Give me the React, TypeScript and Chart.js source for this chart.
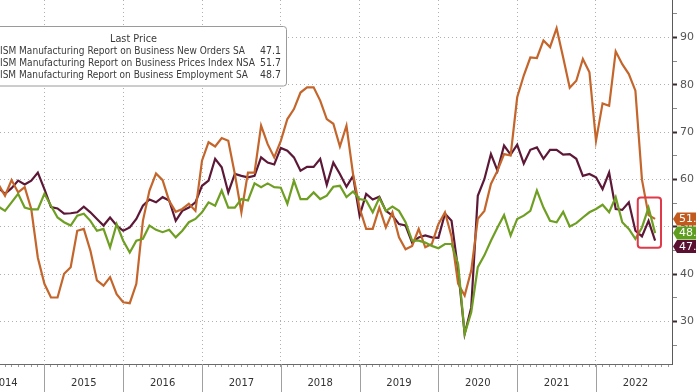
import React, { useEffect, useRef } from "react";
import { Chart, registerables } from "chart.js";

Chart.register(...registerables);

// ---- data (monthly, month-end, starting May 2014) ----
const START_YEAR = 2014;
const START_MONTH = 5;

const NEW_ORDERS = [
  58.3, 57.0, 58.2, 59.8, 59.0, 59.8, 61.5, 58.0,
  54.2, 53.9, 52.8, 52.9, 53.1, 54.3, 53.1, 51.7, 50.3, 52.0, 50.3, 49.2,
  49.9, 51.7, 54.5, 55.8, 55.2, 56.3, 55.6, 51.3, 53.4, 54.1, 55.2, 58.7,
  59.8, 64.4, 62.6, 57.3, 61.2, 60.8, 60.5, 60.8, 64.7, 63.6, 63.2, 66.7,
  66.1, 64.7, 61.9, 62.7, 62.7, 64.4, 58.9, 63.6, 61.2, 58.5, 60.8, 52.4,
  57.0, 55.8, 56.4, 53.4, 52.4, 50.6, 50.3, 46.7, 47.8, 48.2, 47.8, 47.7,
  52.8, 51.3, 41.0, 27.4, 33.0, 56.6, 60.1, 65.4, 61.9, 67.2, 65.3, 67.4,
  63.4, 66.3, 66.8, 64.4, 66.3, 66.3, 65.3, 65.4, 64.4, 60.8, 61.2, 60.5,
  58.0, 61.5, 53.8, 53.6, 55.2, 49.2, 48.0, 51.3, 47.1,
];

const PRICES = [
  59.0, 56.6, 59.9, 57.3, 58.4, 53.8, 43.5, 38.0,
  35.1, 35.1, 40.1, 41.5, 49.2, 49.6, 45.0, 38.7, 37.6, 39.4, 35.8, 34.1,
  33.9, 38.0, 51.3, 57.7, 61.3, 59.9, 55.5, 53.2, 53.8, 54.9, 53.4, 64.0,
  67.9, 67.0, 68.8, 68.2, 61.2, 53.1, 61.5, 61.5, 71.4, 67.5, 64.7, 68.2,
  72.8, 74.9, 78.4, 79.5, 79.5, 76.7, 72.8, 71.8, 67.0, 71.4, 61.2, 54.0,
  49.6, 49.6, 54.1, 49.9, 53.1, 47.8, 45.3, 46.0, 49.6, 45.7, 46.4, 50.6,
  53.1, 48.0, 38.0, 35.5, 40.8, 51.7, 53.4, 59.1, 61.9, 65.4, 65.1, 77.4,
  82.0, 85.8, 85.7, 89.4, 88.0, 92.0, 85.8, 79.4, 80.9, 85.5, 82.7, 68.2,
  76.1, 75.6, 87.1, 84.4, 82.3, 78.8, 60.0, 52.5, 51.7,
];

const EMPLOYMENT = [
  54.3, 53.4, 55.2, 57.0, 54.1, 53.7, 53.7, 57.0,
  54.5, 52.0, 51.0, 50.3, 52.4, 52.8, 51.3, 49.2, 49.6, 45.7, 50.6, 47.1,
  44.6, 47.1, 47.5, 50.3, 49.4, 48.9, 49.4, 47.8, 49.2, 51.0, 51.7, 53.1,
  55.2, 54.5, 57.7, 54.1, 54.1, 55.9, 55.6, 59.2, 58.4, 59.2, 58.4, 58.3,
  54.9, 59.8, 55.9, 55.9, 57.3, 55.9, 56.6, 58.5, 58.7, 56.3, 57.5, 55.9,
  55.6, 53.1, 56.1, 53.4, 54.3, 53.4, 51.0, 47.1, 47.1, 46.7, 46.0, 45.5,
  46.4, 46.4, 42.2, 27.4, 32.0, 41.5, 44.0, 47.1, 49.9, 52.5, 48.2, 51.7,
  52.4, 53.4, 57.7, 54.1, 51.3, 51.0, 53.2, 50.1, 50.8, 52.0, 53.1, 53.8,
  54.7, 53.1, 56.3, 51.0, 49.6, 47.5, 49.9, 54.1, 48.7,
];

const SERIES_NAMES = [
  "ISM Manufacturing Report on Business New Orders SA",
  "ISM Manufacturing Report on Business Prices Index NSA",
  "ISM Manufacturing Report on Business Employment SA",
];
const LEGEND_TITLE = "Last Price";
const LINE_COLORS = ["#5c1836", "#c4662c", "#6e9e22"];
const TAG_COLORS = ["#5a1030", "#c25a1e", "#5f9d1f"];

const X_MIN = 2014.4365;
const X_MAX = 2022.9645;
const Y_MIN = 21.05;
const Y_MAX = 97.95;
const Y_TICKS = [25, 30, 35, 40, 45, 50, 55, 60, 65, 70, 75, 80, 85, 90, 95];

const HIGHLIGHT_FROM = 2022.53;
const HIGHLIGHT_TO = 2022.825;
const HIGHLIGHT_HIGH = 56.2;
const HIGHLIGHT_LOW = 45.6;

const FONT = '"DejaVu Sans", Verdana, sans-serif';

const toPoints = (values: number[]) =>
  values.map((v, i) => ({ x: START_YEAR + (START_MONTH + i) / 12, y: v }));

const SERIES = [NEW_ORDERS, PRICES, EMPLOYMENT];

function roundRect(ctx: CanvasRenderingContext2D, x: number, y: number, w: number, h: number, r: number) {
  ctx.beginPath();
  ctx.moveTo(x + r, y);
  ctx.lineTo(x + w - r, y);
  ctx.arcTo(x + w, y, x + w, y + r, r);
  ctx.lineTo(x + w, y + h - r);
  ctx.arcTo(x + w, y + h, x + w - r, y + h, r);
  ctx.lineTo(x + r, y + h);
  ctx.arcTo(x, y + h, x, y + h - r, r);
  ctx.lineTo(x, y + r);
  ctx.arcTo(x, y, x + r, y, r);
  ctx.closePath();
}

function drawFitted(ctx: CanvasRenderingContext2D, text: string, x: number, y: number, w: number) {
  const m = ctx.measureText(text).width;
  ctx.save();
  ctx.translate(x, y);
  ctx.scale(w / m, 1);
  ctx.fillText(text, 0, 0);
  ctx.restore();
}

const decorPlugin = {
  id: "decor",
  afterDraw(chart: any) {
    const { ctx, chartArea } = chart;
    const xs = chart.scales.x;
    const ys = chart.scales.y;
    ctx.save();

    // year dividers under the axis
    ctx.strokeStyle = "#a0a0a0";
    ctx.lineWidth = 1;
    for (let yr = Math.ceil(xs.min); yr <= Math.floor(xs.max); yr++) {
      const px = Math.round(xs.getPixelForValue(yr)) + 0.5;
      ctx.beginPath();
      ctx.moveTo(px, chartArea.bottom);
      ctx.lineTo(px, chart.height);
      ctx.stroke();
    }

    // highlight box
    const hl = xs.getPixelForValue(HIGHLIGHT_FROM);
    const hr = xs.getPixelForValue(HIGHLIGHT_TO);
    const ht = ys.getPixelForValue(HIGHLIGHT_HIGH);
    const hb = ys.getPixelForValue(HIGHLIGHT_LOW);
    ctx.strokeStyle = "#e0394a";
    ctx.lineWidth = 2;
    roundRect(ctx, hl, ht, hr - hl, hb - ht, 3);
    ctx.stroke();

    // legend box
    ctx.fillStyle = "#ffffff";
    ctx.strokeStyle = "#9a9a9a";
    ctx.lineWidth = 1;
    roundRect(ctx, -21.5, 26.5, 308, 59.5, 3);
    ctx.fill();
    ctx.stroke();
    ctx.fillStyle = "#3a3a3a";
    ctx.font = "10.5px " + FONT;
    ctx.textBaseline = "middle";
    ctx.textAlign = "left";
    drawFitted(ctx, LEGEND_TITLE, 110, 39, 47);
    const rowY = [51.5, 63.5, 75.5];
    const nameW = [245, 255, 248];
    SERIES.forEach((s, i) => {
      ctx.textAlign = "left";
      drawFitted(ctx, SERIES_NAMES[i], 0, rowY[i], nameW[i]);
      const val = s[s.length - 1].toFixed(1);
      const vw = ctx.measureText(val).width;
      drawFitted(ctx, val, 281 - Math.min(vw, 21), rowY[i], Math.min(vw, 21));
    });

    // value tags on the right axis
    const order = [0, 1, 2].sort(
      (a, b) => SERIES[b][SERIES[b].length - 1] - SERIES[a][SERIES[a].length - 1]
    );
    const tagY: number[] = [];
    let prev = -Infinity;
    order.forEach((i) => {
      let yy = ys.getPixelForValue(SERIES[i][SERIES[i].length - 1]);
      if (yy < prev + 13.5) yy = prev + 13.5;
      tagY[i] = yy;
      prev = yy;
    });
    const left = chartArea.right + 1;
    ctx.font = "11px " + FONT;
    ctx.textAlign = "left";
    [0, 1, 2].forEach((i) => {
      const yc = tagY[i];
      ctx.fillStyle = TAG_COLORS[i];
      ctx.beginPath();
      ctx.moveTo(left, yc);
      ctx.lineTo(left + 4, yc - 6.5);
      ctx.lineTo(chart.width, yc - 6.5);
      ctx.lineTo(chart.width, yc + 6.5);
      ctx.lineTo(left + 4, yc + 6.5);
      ctx.closePath();
      ctx.fill();
      ctx.fillStyle = "#ffffff";
      ctx.fillText(SERIES[i][SERIES[i].length - 1].toFixed(1), left + 6, yc + 0.5);
    });

    ctx.restore();
  },
};

export default function App() {
  const ref = useRef<HTMLCanvasElement | null>(null);

  useEffect(() => {
    if (!ref.current) return;
    const chart = new Chart(ref.current, {
      type: "line",
      data: {
        datasets: SERIES.map((s, i) => ({
          label: SERIES_NAMES[i],
          data: toPoints(s),
          borderColor: LINE_COLORS[i],
          backgroundColor: LINE_COLORS[i],
          borderWidth: 2.2,
          pointRadius: 0,
          tension: 0,
          order: 2 - i,
        })),
      },
      options: {
        animation: false,
        responsive: false,
        layout: { padding: 0 },
        plugins: { legend: { display: false }, tooltip: { enabled: false } },
        scales: {
          x: {
            type: "linear",
            min: X_MIN,
            max: X_MAX,
            afterBuildTicks: (scale: any) => {
              const ticks = [];
              for (let k = Math.ceil(X_MIN * 12); k <= Math.floor(X_MAX * 12); k++) {
                ticks.push({ value: k / 12 });
              }
              scale.ticks = ticks;
            },
            afterFit: (scale: any) => {
              scale.height = 28;
              scale.paddingLeft = 0;
              scale.paddingRight = 0;
            },
            ticks: {
              autoSkip: false,
              maxRotation: 0,
              minRotation: 0,
              padding: 10,
              color: "#333333",
              font: { family: FONT, size: 10 },
              callback: (value: any) => {
                const k = Math.round(Number(value) * 12);
                return k % 12 === 6 ? String(Math.floor(k / 12)) : "";
              },
            },
            grid: {
              drawOnChartArea: true,
              tickLength: 3,
              color: (c: any) => {
                const k = Math.round((c.tick?.value ?? 0) * 12);
                return k % 12 === 0 ? "#b0b0b0" : "rgba(0,0,0,0)";
              },
              tickColor: "#9a9a9a",
              tickBorderDash: [],
            },
            border: { display: true, color: "#6a6a6a", width: 1, dash: [1, 3] },
          },
          y: {
            type: "linear",
            position: "right",
            min: Y_MIN,
            max: Y_MAX,
            afterBuildTicks: (scale: any) => {
              scale.ticks = Y_TICKS.map((v) => ({ value: v }));
            },
            afterFit: (scale: any) => {
              scale.width = 24;
              scale.paddingTop = 0;
              scale.paddingBottom = 0;
            },
            ticks: {
              padding: 3,
              color: "#555555",
              font: { family: FONT, size: 11 },
              callback: (value: any) => {
                const v = Number(value);
                return v % 10 === 0 && v >= 30 && v <= 90 ? String(v) : "";
              },
            },
            grid: {
              drawOnChartArea: true,
              tickLength: 5,
              color: (c: any) => {
                const v = c.tick?.value ?? 0;
                return v % 10 === 0 ? "#b0b0b0" : "rgba(0,0,0,0)";
              },
              tickColor: (c: any) => {
                const v = c.tick?.value ?? 0;
                return v % 10 === 0 ? "#3a2a30" : "#8a8a8a";
              },
              tickWidth: (c: any) => {
                const v = c.tick?.value ?? 0;
                return v % 10 === 0 ? 2 : 1;
              },
              tickBorderDash: [],
            },
            border: { display: true, color: "#5a5a5a", width: 1, dash: [1, 3] },
          },
        },
      },
      plugins: [decorPlugin],
    } as any);
    return () => chart.destroy();
  }, []);

  return (
    <div style={{ position: "absolute", left: 0, top: 0, width: 696, height: 392, background: "#fff" }}>
      <canvas ref={ref} width={696} height={392} style={{ display: "block" }} />
    </div>
  );
}
